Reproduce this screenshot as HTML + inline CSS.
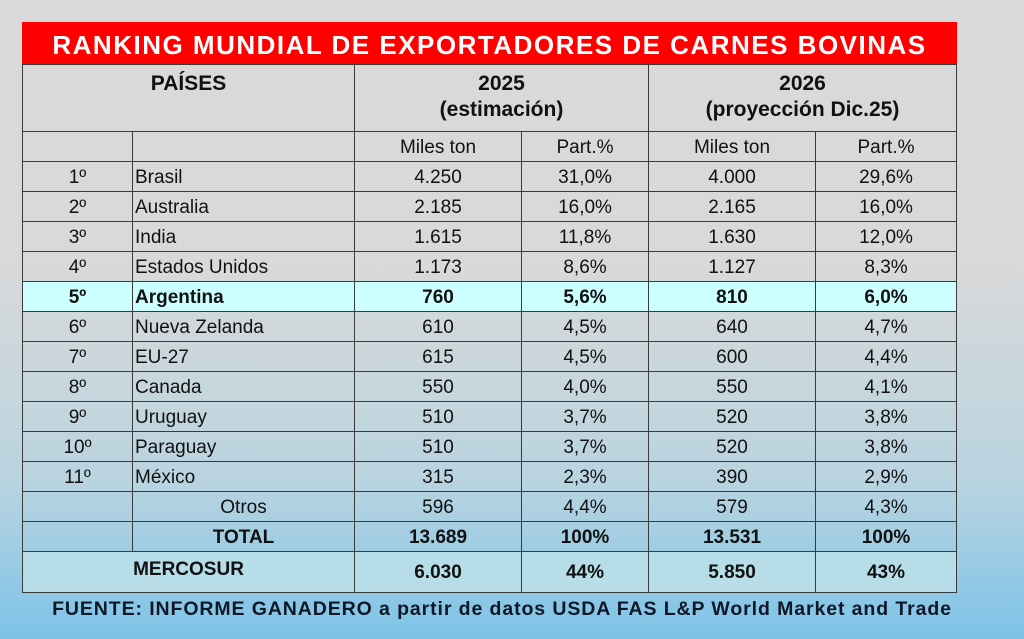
<!DOCTYPE html>
<html><head><meta charset="utf-8"><style>
html,body{margin:0;padding:0}
body{width:1024px;height:639px;overflow:hidden;position:relative;font-family:"Liberation Sans",sans-serif;
background:linear-gradient(to bottom,#d9d9d9 0px,#d9d9d9 260px,#b9d4e0 480px,#7dc3e8 639px);}
.title{position:absolute;left:22px;top:22px;width:935px;height:42px;background:#ff0000;color:#fff;font-weight:bold;font-size:26px;letter-spacing:1.5px;text-align:center;line-height:46px}
table{position:absolute;left:22px;top:64px;border-collapse:collapse;table-layout:fixed}
td{border:1px solid #3a3a3a;padding:2px 0 0 0;font-size:19px;color:#111;text-align:center;height:27px;line-height:27px;white-space:nowrap;overflow:hidden}
td.l{text-align:left;padding-left:2px}
tr.arg td{background:#ccffff;font-weight:bold}
tr.b td{font-weight:bold}
tr.m td{background:#b6dde8;font-weight:bold;height:38px;line-height:38px}
.h td{font-weight:bold;font-size:21px;line-height:26px;vertical-align:top;height:60px;padding-top:6px}
.foot{position:absolute;left:0;width:1004px;top:598px;text-align:center;font-weight:bold;font-size:19.5px;color:#101828;letter-spacing:0.9px}
</style></head><body>
<div class="title">RANKING MUNDIAL DE EXPORTADORES DE CARNES BOVINAS</div>
<table>
<colgroup><col style="width:110px"><col style="width:222px"><col style="width:167px"><col style="width:127px"><col style="width:167px"><col style="width:141px"></colgroup>
<tr class="h"><td colspan="2">PAÍSES</td><td colspan="2">2025<br>(estimación)</td><td colspan="2">2026<br>(proyección Dic.25)</td></tr>
<tr><td></td><td></td><td>Miles ton</td><td>Part.%</td><td>Miles ton</td><td>Part.%</td></tr>
<tr><td>1º</td><td class="l">Brasil</td><td>4.250</td><td>31,0%</td><td>4.000</td><td>29,6%</td></tr>
<tr><td>2º</td><td class="l">Australia</td><td>2.185</td><td>16,0%</td><td>2.165</td><td>16,0%</td></tr>
<tr><td>3º</td><td class="l">India</td><td>1.615</td><td>11,8%</td><td>1.630</td><td>12,0%</td></tr>
<tr><td>4º</td><td class="l">Estados Unidos</td><td>1.173</td><td>8,6%</td><td>1.127</td><td>8,3%</td></tr>
<tr class="arg"><td>5º</td><td class="l">Argentina</td><td>760</td><td>5,6%</td><td>810</td><td>6,0%</td></tr>
<tr><td>6º</td><td class="l">Nueva Zelanda</td><td>610</td><td>4,5%</td><td>640</td><td>4,7%</td></tr>
<tr><td>7º</td><td class="l">EU-27</td><td>615</td><td>4,5%</td><td>600</td><td>4,4%</td></tr>
<tr><td>8º</td><td class="l">Canada</td><td>550</td><td>4,0%</td><td>550</td><td>4,1%</td></tr>
<tr><td>9º</td><td class="l">Uruguay</td><td>510</td><td>3,7%</td><td>520</td><td>3,8%</td></tr>
<tr><td>10º</td><td class="l">Paraguay</td><td>510</td><td>3,7%</td><td>520</td><td>3,8%</td></tr>
<tr><td>11º</td><td class="l">México</td><td>315</td><td>2,3%</td><td>390</td><td>2,9%</td></tr>
<tr><td></td><td>Otros</td><td>596</td><td>4,4%</td><td>579</td><td>4,3%</td></tr>
<tr class="b"><td></td><td>TOTAL</td><td>13.689</td><td>100%</td><td>13.531</td><td>100%</td></tr>
<tr class="m"><td colspan="2" style="line-height:32px;vertical-align:top">MERCOSUR</td><td>6.030</td><td>44%</td><td>5.850</td><td>43%</td></tr>
</table>
<div class="foot">FUENTE: INFORME GANADERO a partir de datos USDA FAS L&amp;P World Market and Trade</div>
</body></html>
